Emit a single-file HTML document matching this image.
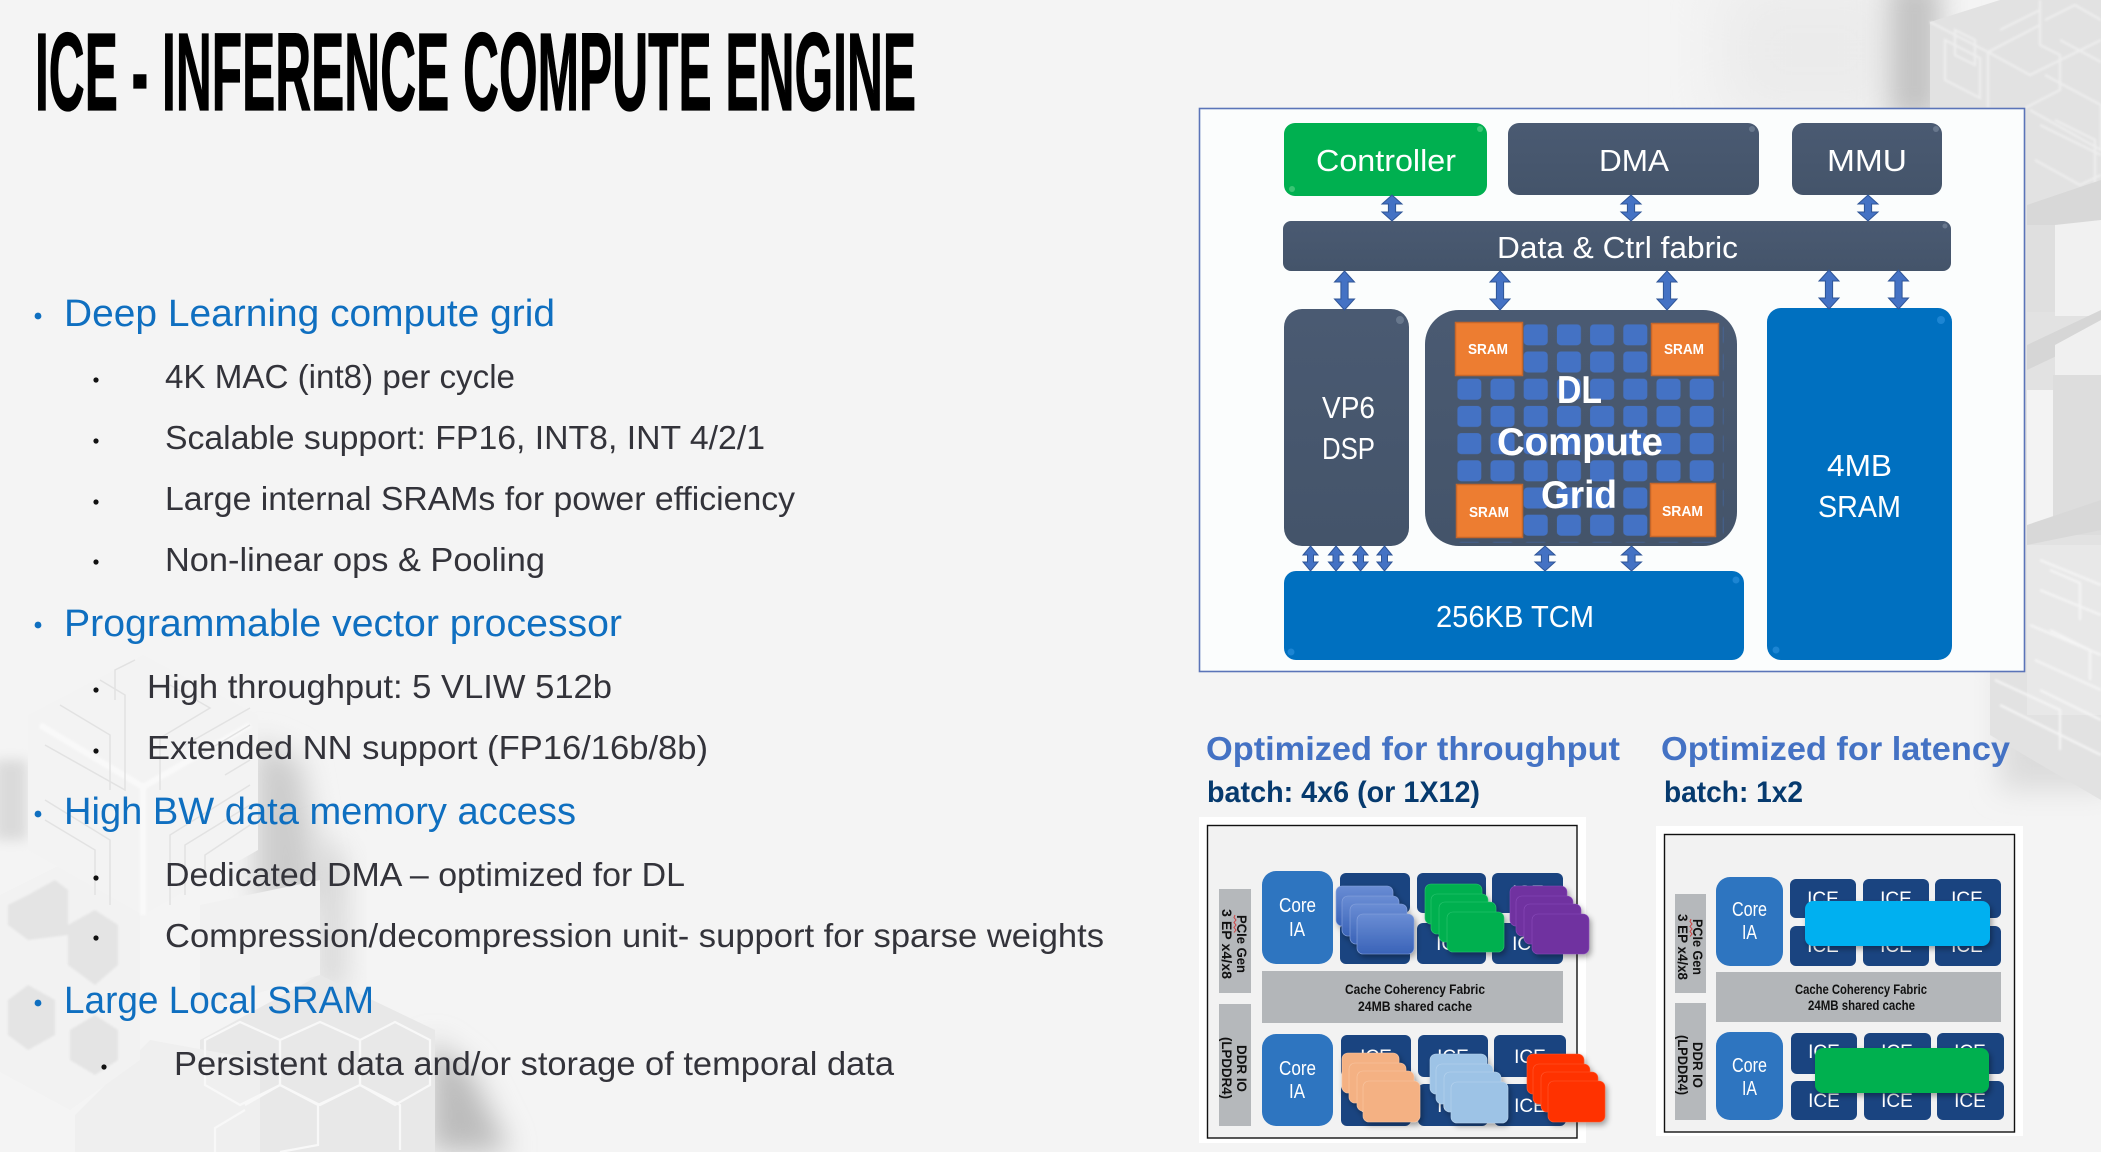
<!DOCTYPE html>
<html lang="en">
<head>
<meta charset="utf-8">
<title>ICE - Inference Compute Engine</title>
<style>
html,body{margin:0;padding:0;width:2101px;height:1152px;overflow:hidden;background:#f4f4f4}
svg{display:block}
text{font-family:"Liberation Sans",sans-serif}
.h{font-size:38px;fill:#0f6fc0}
.s{font-size:33px;fill:#33333a}
.w{fill:#fff;font-size:31px}
.sr{fill:#fff;font-size:15px;font-weight:bold}
.dl{fill:#fff;font-size:39px;font-weight:bold}
.ci{fill:#fff;font-size:20px}
.ice{fill:#fff;font-size:19px}
.ca{fill:#111;font-size:13.5px;font-weight:bold}
.v{fill:#111;font-size:13.5px;font-weight:bold}
.opt{font-size:33px;font-weight:bold;fill:#4472c4}
.bat{font-size:30px;font-weight:bold;fill:#063a6e}
</style>
</head>
<body>
<svg xmlns="http://www.w3.org/2000/svg" width="2101" height="1152" viewBox="0 0 2101 1152">
<defs>
<filter id="b1" x="-20%" y="-20%" width="140%" height="140%"><feGaussianBlur stdDeviation="1"/></filter>
<filter id="b6" x="-50%" y="-50%" width="200%" height="200%"><feGaussianBlur stdDeviation="6"/></filter>
<filter id="b14" x="-80%" y="-80%" width="260%" height="260%"><feGaussianBlur stdDeviation="14"/></filter>
<filter id="b30" x="-80%" y="-80%" width="260%" height="260%"><feGaussianBlur stdDeviation="30"/></filter>
<filter id="ds" x="-20%" y="-20%" width="150%" height="150%"><feDropShadow dx="2" dy="3" stdDeviation="3" flood-color="#000" flood-opacity=".35"/></filter>
<linearGradient id="slate" x1="0" y1="0" x2="0" y2="1"><stop offset="0" stop-color="#4a5a72"/><stop offset="1" stop-color="#44546a"/></linearGradient>
<linearGradient id="cb" x1="0" y1="0" x2="0" y2="1"><stop offset="0" stop-color="#6a8dd4"/><stop offset="1" stop-color="#3a63b8"/></linearGradient>
<pattern id="grid" x="1457.3" y="324.3" width="33.2" height="27.2" patternUnits="userSpaceOnUse"><rect x="0" y="0" width="24" height="21" rx="4" fill="#4472c4"/></pattern>
<path id="a1" d="M0 0L10 9L3.6 9L3.6 17L10 17L0 26L-10 17L-3.6 17L-3.6 9L-10 9Z" fill="#4472c4" stroke="#2f5597" stroke-width="1"/>
<path id="a2" d="M0 0L10 11L3.6 11L3.6 28L10 28L0 39L-10 28L-3.6 28L-3.6 11L-10 11Z" fill="#4472c4" stroke="#2f5597" stroke-width="1"/>
<path id="a3" d="M0 0L7.5 9L3 9L3 16L7.5 16L0 25L-7.5 16L-3 16L-3 9L-7.5 9Z" fill="#4472c4" stroke="#2f5597" stroke-width="1"/>
<path id="a4" d="M0 0L10 9L3.6 9L3.6 16L10 16L0 25L-10 16L-3.6 16L-3.6 9L-10 9Z" fill="#4472c4" stroke="#2f5597" stroke-width="1"/>
</defs>

<rect width="2101" height="1152" fill="#f4f4f4"/>

<!-- background: top right -->
<rect x="1720" y="-20" width="190" height="140" fill="#ebebeb" filter="url(#b30)"/>
<rect x="1890" y="-20" width="50" height="140" fill="#c2c2c2" filter="url(#b14)"/>
<rect x="2000" y="660" width="110" height="130" fill="#dcdcdc" filter="url(#b14)"/>
<polygon points="1930,22 2000,0 2101,0 2101,800 1990,735 1990,660 2025,660 2025,108 1930,108" fill="#e2e2e2"/>
<g fill="none" stroke="#eeeeee" stroke-width="2.2" filter="url(#b1)">
<path d="M1930 22L1988 52L1988 108M1988 52L2040 25L2040 0M1988 52L2030 75L2101 40"/>
<path d="M1945 40L1980 58L1980 98L1945 80Z"/>
<path d="M1955 30L1975 40L1975 65L1955 55Z"/>
<path d="M2000 30L2040 10L2040 45L2060 55L2060 90L2025 108"/>
<path d="M2045 20L2075 5L2101 20M2060 40L2101 62M2045 75L2101 105L2101 150L2030 110"/>
<path d="M2040 125L2101 155M2035 160L2080 185L2101 175M2055 120L2095 140L2095 185"/>
</g>
<rect x="2027" y="212" width="30" height="100" fill="#dfdfdf"/>
<rect x="2055" y="220" width="46" height="96" fill="#f1f1f1"/>
<polygon points="2027,205 2101,180 2101,220 2055,225 2027,225" fill="#d8d8d8"/>
<polygon points="2027,345 2101,310 2101,335 2027,370" fill="#d6d6d6"/>
<polygon points="2055,345 2101,320 2101,380 2055,400" fill="#f0f0f0"/>
<rect x="2027" y="390" width="26" height="135" fill="#f3f3f3"/>
<rect x="2053" y="375" width="48" height="160" fill="#dddddd"/>
<polygon points="2027,525 2101,500 2101,530 2027,545" fill="#d8d8d8"/>
<rect x="2027" y="545" width="74" height="170" fill="#e8e8e8"/>
<g fill="none" stroke="#f5f5f5" stroke-width="2.2" filter="url(#b1)">
<path d="M2040 560L2101 585M2040 590L2101 615M2030 625L2101 655M2035 660L2101 690"/>
<path d="M2050 570L2080 583L2080 620M2050 630L2090 650L2090 680"/>
<path d="M1995 680L2060 710L2060 750M2000 705L2101 755M2040 690L2101 720"/>
</g>

<!-- background: bottom left -->
<rect x="-5" y="760" width="32" height="80" fill="#dadada" filter="url(#b6)"/>
<polygon points="255,740 300,760 325,900 255,900" fill="#cccccc" filter="url(#b14)"/>
<polygon points="318,830 345,860 345,990 318,990" fill="#d6d6d6" filter="url(#b14)"/>
<polygon points="430,1040 470,1070 510,1152 430,1152" fill="#bcbcbc" filter="url(#b14)"/>
<polygon points="200,905 320,880 320,975 200,1010" fill="#f1f1f1"/>
<polygon points="320,975 435,1030 435,1152 200,1152 200,1040" fill="#e8e8e8"/>
<polygon points="150,1040 260,1060 260,1152 75,1152 75,1115" fill="#efefef"/>
<g fill="none" stroke="#f8f8f8" stroke-width="2.2">
<path d="M205 1040L240 1022L280 1040L280 1085L240 1105L205 1085Z"/>
<path d="M280 1040L320 1022L360 1040L360 1085L320 1105L280 1085Z"/>
<path d="M360 1040L395 1022L430 1040L430 1085L395 1105L360 1085Z"/>
<path d="M245 1105L280 1085L318 1105L318 1145L280 1152M318 1105L360 1085L400 1105L400 1150"/>
<path d="M215 1152L215 1128L245 1110"/>
</g>
<polygon points="70,860 140,900 140,1060 70,1110 0,1072 0,895" fill="#f2f2f2"/>
<g fill="#e4e4e4" filter="url(#b1)">
<polygon points="28,895 55,880 68,890 68,935 28,940 8,925 8,905"/>
<polygon points="68,925 95,910 118,925 118,965 95,985 68,965"/>
<polygon points="28,985 55,1000 55,1035 28,1050 8,1035 8,1000"/>
<polygon points="70,1030 95,1015 118,1030 118,1060 95,1075 70,1060"/>
</g>
<polygon points="143,655 258,715 258,850 143,915 28,850 28,715" fill="#f3f3f3"/>
<g fill="none" stroke="#f9f9f9" stroke-width="6" filter="url(#b1)">
<path d="M143 787L143 915M143 787L40 725M143 787L250 725"/>
</g>
<g fill="none" stroke="#e2e2e2" stroke-width="1.5">
<path d="M100 680L125 695L125 790L45 745"/>
<path d="M60 705L110 735L110 790"/>
<path d="M170 685L210 708L160 738L160 790"/>
<path d="M185 745L250 708M200 755L250 725M225 775L250 760"/>
<path d="M45 800L110 840L110 905M45 820L95 850L95 895"/>
<path d="M170 905L170 835L250 785M185 895L185 845L250 805M205 880L205 855L250 825"/>
<path d="M115 700L115 670L135 660"/>
</g>

<!-- title -->
<text x="35" y="110" font-size="110" font-weight="bold" fill="#000" stroke="#000" stroke-width="1.2" textLength="881" lengthAdjust="spacingAndGlyphs">ICE - INFERENCE COMPUTE ENGINE</text>

<!-- bullets -->
<g fill="#0f6fc0"><circle cx="38" cy="316" r="3.4"/><circle cx="38" cy="625" r="3.4"/><circle cx="38" cy="814" r="3.4"/><circle cx="38" cy="1003" r="3.4"/></g>
<g fill="#111"><circle cx="96" cy="380" r="2.6"/><circle cx="96" cy="441" r="2.6"/><circle cx="96" cy="502" r="2.6"/><circle cx="96" cy="562" r="2.6"/><circle cx="96" cy="690" r="2.6"/><circle cx="96" cy="751" r="2.6"/><circle cx="96" cy="878" r="2.6"/><circle cx="96" cy="938" r="2.6"/><circle cx="104" cy="1067" r="2.6"/></g>

<text class="h" x="64" y="326" textLength="491" lengthAdjust="spacingAndGlyphs">Deep Learning compute grid</text>
<text class="s" x="165" y="388" textLength="350" lengthAdjust="spacingAndGlyphs">4K MAC (int8) per cycle</text>
<text class="s" x="165" y="449" textLength="600" lengthAdjust="spacingAndGlyphs">Scalable support: FP16, INT8, INT 4/2/1</text>
<text class="s" x="165" y="510" textLength="630" lengthAdjust="spacingAndGlyphs">Large internal SRAMs for power efficiency</text>
<text class="s" x="165" y="571" textLength="380" lengthAdjust="spacingAndGlyphs">Non-linear ops &amp; Pooling</text>
<text class="h" x="64" y="636" textLength="558" lengthAdjust="spacingAndGlyphs">Programmable vector processor</text>
<text class="s" x="147" y="698" textLength="465" lengthAdjust="spacingAndGlyphs">High throughput: 5 VLIW 512b</text>
<text class="s" x="147" y="759" textLength="561" lengthAdjust="spacingAndGlyphs">Extended NN support (FP16/16b/8b)</text>
<text class="h" x="64" y="824" textLength="512" lengthAdjust="spacingAndGlyphs">High BW data memory access</text>
<text class="s" x="165" y="886" textLength="520" lengthAdjust="spacingAndGlyphs">Dedicated DMA – optimized for DL</text>
<text class="s" x="165" y="947" textLength="939" lengthAdjust="spacingAndGlyphs">Compression/decompression unit- support for sparse weights</text>
<text class="h" x="64" y="1013" textLength="310" lengthAdjust="spacingAndGlyphs">Large Local SRAM</text>
<text class="s" x="174" y="1075" textLength="720" lengthAdjust="spacingAndGlyphs">Persistent data and/or storage of temporal data</text>

<!-- main block diagram -->
<rect x="1199.5" y="108.5" width="825" height="563" fill="#fbfdfd" stroke="#5b74b8" stroke-width="1.6"/>
<rect x="1284" y="123" width="203" height="73" rx="11" fill="#00b050"/>
<rect x="1508" y="123" width="251" height="72" rx="11" fill="url(#slate)"/>
<rect x="1792" y="123" width="150" height="72" rx="11" fill="url(#slate)"/>
<rect x="1283" y="221" width="668" height="50" rx="8" fill="url(#slate)"/>
<rect x="1284" y="309" width="125" height="237" rx="18" fill="url(#slate)"/>
<rect x="1425" y="310" width="312" height="236" rx="34" fill="url(#slate)"/>
<rect x="1767" y="308" width="185" height="352" rx="14" fill="#0070c0"/>
<rect x="1284" y="571" width="460" height="89" rx="12" fill="#0070c0"/>
<!-- bevel highlights -->
<g fill="#8f9db0" opacity=".45"><circle cx="1752" cy="129" r="3"/><circle cx="1936" cy="129" r="3"/><circle cx="1945" cy="226" r="2.5"/><circle cx="1400" cy="320" r="4"/></g>
<g fill="#2f93e0" opacity=".6"><circle cx="1941" cy="320" r="4"/><circle cx="1736" cy="580" r="3.5"/><circle cx="1291" cy="652" r="3.5"/><circle cx="1776" cy="650" r="3.5"/></g>
<g fill="#5fd48c" opacity=".6"><circle cx="1480" cy="129" r="3"/><circle cx="1292" cy="189" r="3"/></g>

<rect x="1457.3" y="324.3" width="266" height="218" fill="url(#grid)"/>
<g fill="#ed7d31" stroke="#c5662a" stroke-width="1.5">
<rect x="1455.5" y="322.5" width="67" height="53"/>
<rect x="1651.5" y="323.5" width="67" height="52"/>
<rect x="1456.5" y="484.5" width="66" height="53"/>
<rect x="1650.5" y="483.5" width="65" height="53"/>
</g>
<text class="sr" x="1468" y="354" textLength="40" lengthAdjust="spacingAndGlyphs">SRAM</text>
<text class="sr" x="1664" y="354" textLength="40" lengthAdjust="spacingAndGlyphs">SRAM</text>
<text class="sr" x="1469" y="517" textLength="40" lengthAdjust="spacingAndGlyphs">SRAM</text>
<text class="sr" x="1662" y="516" textLength="41" lengthAdjust="spacingAndGlyphs">SRAM</text>
<text class="dl" x="1557" y="403" textLength="45" lengthAdjust="spacingAndGlyphs">DL</text>
<text class="dl" x="1497" y="455" textLength="166" lengthAdjust="spacingAndGlyphs">Compute</text>
<text class="dl" x="1541" y="508" textLength="76" lengthAdjust="spacingAndGlyphs">Grid</text>

<text class="w" x="1316" y="171" textLength="140" lengthAdjust="spacingAndGlyphs">Controller</text>
<text class="w" x="1599" y="171" textLength="70" lengthAdjust="spacingAndGlyphs">DMA</text>
<text class="w" x="1827" y="171" textLength="80" lengthAdjust="spacingAndGlyphs">MMU</text>
<text class="w" x="1497" y="258" textLength="241" lengthAdjust="spacingAndGlyphs">Data &amp; Ctrl fabric</text>
<text class="w" x="1322" y="418" textLength="53" lengthAdjust="spacingAndGlyphs">VP6</text>
<text class="w" x="1322" y="459" textLength="53" lengthAdjust="spacingAndGlyphs">DSP</text>
<text class="w" x="1827" y="476" textLength="65" lengthAdjust="spacingAndGlyphs">4MB</text>
<text class="w" x="1818" y="517" textLength="83" lengthAdjust="spacingAndGlyphs">SRAM</text>
<text class="w" x="1436" y="627" textLength="158" lengthAdjust="spacingAndGlyphs">256KB TCM</text>

<!-- arrows -->
<use href="#a1" x="1392" y="195"/><use href="#a1" x="1631" y="195"/><use href="#a1" x="1868" y="195"/>
<use href="#a2" x="1344.5" y="271"/><use href="#a2" x="1500" y="271"/><use href="#a2" x="1667" y="271"/><use href="#a2" x="1829" y="270"/><use href="#a2" x="1898.5" y="270"/>
<use href="#a3" x="1310.5" y="546"/><use href="#a3" x="1336" y="546"/><use href="#a3" x="1360.5" y="546"/><use href="#a3" x="1384.5" y="546"/>
<use href="#a4" x="1545" y="546"/><use href="#a4" x="1631.5" y="546"/>

<!-- headings -->
<text class="opt" x="1206" y="760" textLength="414" lengthAdjust="spacingAndGlyphs">Optimized for throughput</text>
<text class="bat" x="1207" y="802" textLength="273" lengthAdjust="spacingAndGlyphs">batch: 4x6 (or 1X12)</text>
<text class="opt" x="1661" y="760" textLength="349" lengthAdjust="spacingAndGlyphs">Optimized for latency</text>
<text class="bat" x="1664" y="802" textLength="139" lengthAdjust="spacingAndGlyphs">batch: 1x2</text>

<!-- throughput panel -->
<rect x="1199" y="817" width="387" height="326" fill="#fff"/>
<rect x="1207.5" y="825.5" width="369.5" height="312.5" fill="#f2f2f2" stroke="#111" stroke-width="1.4"/>
<rect x="1219" y="889" width="32" height="104" fill="#b5b8bb"/>
<rect x="1219" y="1004" width="32" height="122" fill="#b5b8bb"/>
<rect x="1262" y="971" width="301" height="52" fill="#b3b6b9"/>
<rect x="1262" y="871" width="71" height="93" rx="14" fill="#2e75c0"/>
<rect x="1262" y="1034" width="71" height="92" rx="14" fill="#2e75c0"/>
<g fill="#1a4480">
<rect x="1340" y="873" width="70" height="40" rx="6"/><rect x="1417" y="873" width="69" height="40" rx="6"/><rect x="1492" y="873" width="71" height="40" rx="6"/>
<rect x="1340" y="923" width="70" height="41" rx="6"/><rect x="1417" y="923" width="69" height="41" rx="6"/><rect x="1492" y="923" width="71" height="41" rx="6"/>
<rect x="1341" y="1035" width="70" height="42" rx="6"/><rect x="1418" y="1035" width="70" height="42" rx="6"/><rect x="1494" y="1035" width="72" height="42" rx="6"/>
<rect x="1341" y="1084" width="70" height="42" rx="6"/><rect x="1418" y="1084" width="70" height="42" rx="6"/><rect x="1494" y="1084" width="72" height="42" rx="6"/>
</g>
<text class="ice" x="1375" y="902" text-anchor="middle">ICE</text><text class="ice" x="1452" y="902" text-anchor="middle">ICE</text><text class="ice" x="1528" y="899" text-anchor="middle">ICE</text>
<text class="ice" x="1375" y="950" text-anchor="middle">ICE</text><text class="ice" x="1452" y="950" text-anchor="middle">ICE</text><text class="ice" x="1528" y="950" text-anchor="middle">ICE</text>
<text class="ice" x="1376" y="1063" text-anchor="middle">ICE</text><text class="ice" x="1453" y="1063" text-anchor="middle">ICE</text><text class="ice" x="1530" y="1063" text-anchor="middle">ICE</text>
<text class="ice" x="1376" y="1112" text-anchor="middle">ICE</text><text class="ice" x="1453" y="1112" text-anchor="middle">ICE</text><text class="ice" x="1530" y="1112" text-anchor="middle">ICE</text>
<text class="ci" x="1279" y="912" textLength="37" lengthAdjust="spacingAndGlyphs">Core</text>
<text class="ci" x="1289" y="936" textLength="16" lengthAdjust="spacingAndGlyphs">IA</text>
<text class="ci" x="1279" y="1075" textLength="37" lengthAdjust="spacingAndGlyphs">Core</text>
<text class="ci" x="1289" y="1098" textLength="16" lengthAdjust="spacingAndGlyphs">IA</text>
<text class="ca" x="1345" y="994" textLength="140" lengthAdjust="spacingAndGlyphs">Cache Coherency Fabric</text>
<text class="ca" x="1358" y="1011" textLength="114" lengthAdjust="spacingAndGlyphs">24MB shared cache</text>
<text class="v" transform="translate(1237 915) rotate(90)" textLength="58" lengthAdjust="spacingAndGlyphs">PCIe Gen</text>
<text class="v" transform="translate(1222 909) rotate(90)" textLength="70" lengthAdjust="spacingAndGlyphs">3 EP x4/x8</text>
<text class="v" transform="translate(1237 1045) rotate(90)" textLength="47" lengthAdjust="spacingAndGlyphs">DDR IO</text>
<text class="v" transform="translate(1222 1037) rotate(90)" textLength="62" lengthAdjust="spacingAndGlyphs">(LPDDR4)</text>
<path d="M1235 915l-1 2.5l2 2.5l-2 2.5l2 2.5l-2 2.5l2 2.5l-2 2.5" fill="none" stroke="#d04040" stroke-width="1"/>

<!-- stacked cards -->
<g filter="url(#ds)" fill="url(#cb)" stroke="#8aa5de" stroke-width=".6">
<rect x="1336" y="886" width="57" height="40" rx="6"/><rect x="1342" y="896" width="57" height="40" rx="6"/><rect x="1350" y="904" width="57" height="40" rx="6"/><rect x="1357" y="914" width="57" height="40" rx="6"/>
</g>
<g filter="url(#ds)" fill="#00b050" stroke="#2cc570" stroke-width=".6">
<rect x="1425" y="884" width="57" height="40" rx="6"/><rect x="1431" y="894" width="57" height="40" rx="6"/><rect x="1439" y="902" width="57" height="40" rx="6"/><rect x="1447" y="912" width="57" height="40" rx="6"/>
</g>
<g filter="url(#ds)" fill="#7030a0" stroke="#8a4cbb" stroke-width=".6">
<rect x="1510" y="886" width="57" height="40" rx="6"/><rect x="1516" y="896" width="57" height="40" rx="6"/><rect x="1524" y="904" width="57" height="40" rx="6"/><rect x="1532" y="914" width="57" height="40" rx="6"/>
</g>
<g filter="url(#ds)" fill="#f4b183" stroke="#f8c6a3" stroke-width=".6">
<rect x="1342" y="1053" width="57" height="40" rx="6"/><rect x="1349" y="1063" width="57" height="40" rx="6"/><rect x="1357" y="1071" width="57" height="40" rx="6"/><rect x="1363" y="1081" width="57" height="41" rx="6"/>
</g>
<g filter="url(#ds)" fill="#9dc3e6" stroke="#b8d4ee" stroke-width=".6">
<rect x="1430" y="1054" width="57" height="40" rx="6"/><rect x="1436" y="1064" width="57" height="40" rx="6"/><rect x="1444" y="1072" width="57" height="40" rx="6"/><rect x="1451" y="1082" width="57" height="41" rx="6"/>
</g>
<g filter="url(#ds)" fill="#ff3300" stroke="#ff5a30" stroke-width=".6">
<rect x="1527" y="1054" width="57" height="40" rx="6"/><rect x="1533" y="1064" width="57" height="40" rx="6"/><rect x="1541" y="1072" width="57" height="40" rx="6"/><rect x="1548" y="1081" width="57" height="41" rx="6"/>
</g>

<!-- latency panel -->
<rect x="1656" y="826" width="367" height="310" fill="#fff"/>
<rect x="1664.5" y="834.5" width="350" height="297.5" fill="#f2f2f2" stroke="#111" stroke-width="1.4"/>
<rect x="1675" y="894" width="31" height="99" fill="#b5b8bb"/>
<rect x="1675" y="1003" width="31" height="117" fill="#b5b8bb"/>
<rect x="1716" y="972" width="285" height="50" fill="#b3b6b9"/>
<rect x="1716" y="877" width="67" height="89" rx="14" fill="#2e75c0"/>
<rect x="1716" y="1032" width="67" height="88" rx="14" fill="#2e75c0"/>
<g fill="#1a4480">
<rect x="1790" y="879" width="66" height="39" rx="6"/><rect x="1863" y="879" width="66" height="39" rx="6"/><rect x="1935" y="879" width="66" height="39" rx="6"/>
<rect x="1790" y="926" width="66" height="40" rx="6"/><rect x="1863" y="926" width="66" height="40" rx="6"/><rect x="1935" y="926" width="66" height="40" rx="6"/>
<rect x="1791" y="1033" width="66" height="41" rx="6"/><rect x="1864" y="1033" width="67" height="41" rx="6"/><rect x="1937" y="1033" width="67" height="41" rx="6"/>
<rect x="1791" y="1081" width="66" height="39" rx="6"/><rect x="1864" y="1081" width="67" height="39" rx="6"/><rect x="1937" y="1081" width="67" height="39" rx="6"/>
</g>
<text class="ice" x="1823" y="905" text-anchor="middle">ICE</text><text class="ice" x="1896" y="905" text-anchor="middle">ICE</text><text class="ice" x="1967" y="905" text-anchor="middle">ICE</text>
<text class="ice" x="1823" y="952" text-anchor="middle">ICE</text><text class="ice" x="1896" y="952" text-anchor="middle">ICE</text><text class="ice" x="1967" y="952" text-anchor="middle">ICE</text>
<text class="ice" x="1824" y="1058" text-anchor="middle">ICE</text><text class="ice" x="1897" y="1058" text-anchor="middle">ICE</text><text class="ice" x="1970" y="1058" text-anchor="middle">ICE</text>
<text class="ice" x="1824" y="1107" text-anchor="middle">ICE</text><text class="ice" x="1897" y="1107" text-anchor="middle">ICE</text><text class="ice" x="1970" y="1107" text-anchor="middle">ICE</text>
<text class="ci" x="1732" y="916" textLength="35" lengthAdjust="spacingAndGlyphs">Core</text>
<text class="ci" x="1742" y="939" textLength="15" lengthAdjust="spacingAndGlyphs">IA</text>
<text class="ci" x="1732" y="1072" textLength="35" lengthAdjust="spacingAndGlyphs">Core</text>
<text class="ci" x="1742" y="1095" textLength="15" lengthAdjust="spacingAndGlyphs">IA</text>
<text class="ca" x="1795" y="994" textLength="132" lengthAdjust="spacingAndGlyphs">Cache Coherency Fabric</text>
<text class="ca" x="1808" y="1010" textLength="107" lengthAdjust="spacingAndGlyphs">24MB shared cache</text>
<text class="v" transform="translate(1693 919) rotate(90)" textLength="56" lengthAdjust="spacingAndGlyphs">PCIe Gen</text>
<text class="v" transform="translate(1678 914) rotate(90)" textLength="66" lengthAdjust="spacingAndGlyphs">3 EP x4/x8</text>
<text class="v" transform="translate(1693 1042) rotate(90)" textLength="46" lengthAdjust="spacingAndGlyphs">DDR IO</text>
<text class="v" transform="translate(1678 1035) rotate(90)" textLength="60" lengthAdjust="spacingAndGlyphs">(LPDDR4)</text>
<path d="M1691 919l-1 2.5l2 2.5l-2 2.5l2 2.5l-2 2.5l2 2.5l-2 2.5" fill="none" stroke="#d04040" stroke-width="1"/>
<rect x="1805" y="901" width="185" height="45" rx="8" fill="#00b0f0" filter="url(#ds)"/>
<rect x="1815" y="1048" width="174" height="45" rx="8" fill="#00b050" filter="url(#ds)"/>
</svg>
</body>
</html>
